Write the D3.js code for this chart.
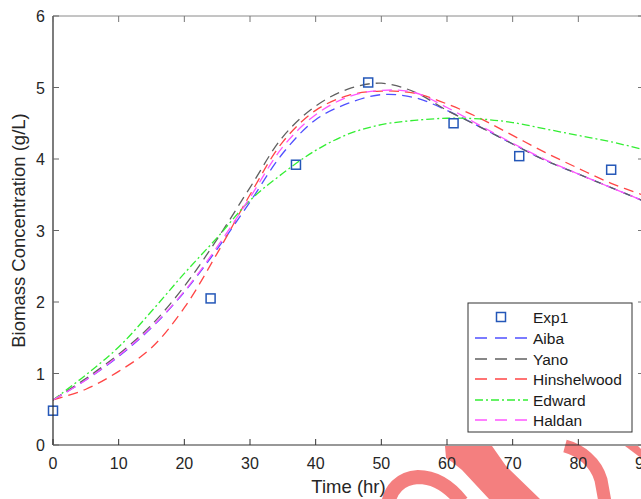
<!DOCTYPE html>
<html>
<head>
<meta charset="utf-8">
<script src="https://cdn.jsdelivr.net/npm/d3@7"></script>
<style>
  html, body { margin: 0; padding: 0; background: #fff; }
  svg { display: block; font-family: "Liberation Sans", Arial, Helvetica, sans-serif; }
</style>
</head>
<body>
<svg id="chart" width="641" height="499"></svg>
<script>
// Model time grid (hr)
const time = [0, 5, 10, 15, 20, 25, 30, 35, 40, 45, 50, 55, 60, 65, 70, 75, 80, 85, 90];

// Simulated biomass concentration (g/L) for each kinetic model
const aiba        = [0.63, 0.91, 1.24, 1.64, 2.14, 2.74, 3.40, 4.08, 4.55, 4.78, 4.90, 4.86, 4.68, 4.45, 4.21, 3.98, 3.79, 3.60, 3.41];
const yano        = [0.63, 0.93, 1.27, 1.68, 2.22, 2.88, 3.60, 4.31, 4.74, 4.98, 5.06, 4.94, 4.68, 4.45, 4.21, 3.98, 3.79, 3.60, 3.41];
const hinshelwood = [0.63, 0.78, 1.03, 1.36, 1.92, 2.68, 3.50, 4.24, 4.68, 4.89, 4.95, 4.92, 4.77, 4.57, 4.33, 4.09, 3.87, 3.66, 3.49];
const edward      = [0.63, 0.98, 1.37, 1.87, 2.40, 2.90, 3.42, 3.80, 4.12, 4.35, 4.48, 4.54, 4.57, 4.56, 4.51, 4.42, 4.33, 4.24, 4.13];
const haldan      = [0.63, 0.91, 1.25, 1.65, 2.15, 2.77, 3.46, 4.17, 4.62, 4.87, 4.96, 4.93, 4.72, 4.47, 4.22, 3.99, 3.79, 3.60, 3.41];

// Experimental measurements
const expTime    = [0, 24, 37, 48, 61, 71, 85];
const expBiomass = [0.48, 2.05, 3.92, 5.07, 4.50, 4.04, 3.85];

// Axis ticks
const xTicks = [0, 10, 20, 30, 40, 50, 60, 70, 80, 90];
const yTicks = [0, 1, 2, 3, 4, 5, 6];

const series = [
  { name: "Aiba",        values: aiba,        color: "#5050ff", dash: "10,6",    legendDash: "12,8" },
  { name: "Yano",        values: yano,        color: "#606060", dash: "10,6",    legendDash: "12,8" },
  { name: "Hinshelwood", values: hinshelwood, color: "#ff4545", dash: "10,6",    legendDash: "12,8" },
  { name: "Edward",      values: edward,      color: "#33ee33", dash: "8,3,2,3", legendDash: "8,3,2,3" },
  { name: "Haldan",      values: haldan,      color: "#ff55ff", dash: "10,6",    legendDash: "12,8" }
];

const svg = d3.select("#chart");
const pLeft = 53, pRight = 644, pTop = 16, pBottom = 445;

const x = d3.scaleLinear().domain([0, 90]).range([pLeft, pRight]);
const y = d3.scaleLinear().domain([0, 6]).range([pBottom, pTop]);

// Decorative red strokes in the lower right corner
const deco = svg.append("g").attr("fill", "none").attr("stroke", "#f47f7f");
deco.append("path")
  .attr("d", "M388,505 C390,490 400,478 418,477 C435,477 450,487 462,502")
  .attr("stroke-width", 14);
deco.append("path")
  .attr("d", "M565,446 C580,450 596,462 601,480 L605,502")
  .attr("stroke-width", 13);
svg.append("path")
  .attr("d", "M445,446 L492,446 L506,466 L540,499 L489,499 L462,470 L452,462 L446,458 Z")
  .attr("fill", "#f47f7f");
svg.append("path")
  .attr("d", "M625,446 L638,446 L641,449 L641,458 Z")
  .attr("fill", "#f47f7f");

// Plot clip
svg.append("defs").append("clipPath").attr("id", "plotclip")
  .append("rect").attr("x", pLeft).attr("y", pTop).attr("width", pRight - pLeft).attr("height", pBottom - pTop);

// Model curves
const line = d3.line()
  .x((d, i) => x(time[i]))
  .y(d => y(d))
  .curve(d3.curveCatmullRom.alpha(0.5));

const plot = svg.append("g").attr("clip-path", "url(#plotclip)");
series.forEach(s => {
  plot.append("path")
    .attr("d", line(s.values))
    .attr("fill", "none")
    .attr("stroke", s.color)
    .attr("stroke-width", 1.3)
    .attr("stroke-dasharray", s.dash);
});

// Experimental markers
svg.append("g").selectAll("rect.exp")
  .data(expTime)
  .join("rect")
  .attr("class", "exp")
  .attr("x", d => x(d) - 4.5)
  .attr("y", (d, i) => y(expBiomass[i]) - 4.5)
  .attr("width", 9)
  .attr("height", 9)
  .attr("fill", "none")
  .attr("stroke", "#2457b8")
  .attr("stroke-width", 1.5);

// Axes box and ticks
const axisG = svg.append("g");
axisG.append("line").attr("x1", pLeft).attr("x2", pRight).attr("y1", pTop).attr("y2", pTop)
  .attr("stroke", "#8a8a8a").attr("stroke-width", 1);
axisG.append("line").attr("x1", pLeft).attr("x2", pRight).attr("y1", pBottom).attr("y2", pBottom)
  .attr("stroke", "#333").attr("stroke-width", 1.2);
axisG.append("line").attr("x1", pLeft).attr("x2", pLeft).attr("y1", pTop).attr("y2", pBottom)
  .attr("stroke", "#262626").attr("stroke-width", 1.2);
axisG.append("line").attr("x1", pRight).attr("x2", pRight).attr("y1", pTop).attr("y2", pBottom)
  .attr("stroke", "#8a8a8a").attr("stroke-width", 1);

const tickLen = 6;
xTicks.forEach(t => {
  axisG.append("line").attr("x1", x(t)).attr("x2", x(t)).attr("y1", pBottom).attr("y2", pBottom - tickLen)
    .attr("stroke", "#333");
  axisG.append("line").attr("x1", x(t)).attr("x2", x(t)).attr("y1", pTop).attr("y2", pTop + tickLen)
    .attr("stroke", "#777");
});
yTicks.forEach(t => {
  axisG.append("line").attr("x1", pLeft).attr("x2", pLeft + tickLen).attr("y1", y(t)).attr("y2", y(t))
    .attr("stroke", "#666");
  axisG.append("line").attr("x1", pRight).attr("x2", pRight - tickLen).attr("y1", y(t)).attr("y2", y(t))
    .attr("stroke", "#777");
});

// Tick labels
svg.append("g").selectAll("text")
  .data(xTicks).join("text")
  .attr("x", d => x(d)).attr("y", 469)
  .attr("text-anchor", "middle")
  .attr("font-size", 16).attr("fill", "#262626")
  .text(d => d);
svg.append("g").selectAll("text")
  .data(yTicks).join("text")
  .attr("x", 45).attr("y", d => y(d) + 6)
  .attr("text-anchor", "end")
  .attr("font-size", 16).attr("fill", "#262626")
  .text(d => d);

// Axis titles
svg.append("text")
  .attr("x", (pLeft + pRight) / 2).attr("y", 493)
  .attr("text-anchor", "middle").attr("font-size", 18.5).attr("fill", "#262626")
  .text("Time (hr)");
svg.append("text")
  .attr("transform", `translate(25,${(pTop + pBottom) / 2}) rotate(-90)`)
  .attr("text-anchor", "middle").attr("font-size", 18.5).attr("fill", "#262626")
  .text("Biomass Concentration (g/L)");

// Legend
const lg = svg.append("g");
lg.append("rect").attr("x", 468).attr("y", 303).attr("width", 164).attr("height", 129)
  .attr("fill", "#fff").attr("stroke", "#333").attr("stroke-width", 1);
const rowY = [317, 338, 359, 379, 400, 420];
lg.append("rect").attr("x", 501 - 4.5).attr("y", rowY[0] - 4.5).attr("width", 9).attr("height", 9)
  .attr("fill", "none").attr("stroke", "#2457b8").attr("stroke-width", 1.5);
lg.append("text").attr("x", 533).attr("y", rowY[0] + 5.5).attr("font-size", 15.5).attr("fill", "#1a1a1a").text("Exp1");
series.forEach((s, i) => {
  const ry = rowY[i + 1];
  lg.append("line").attr("x1", 475).attr("x2", 528).attr("y1", ry).attr("y2", ry)
    .attr("stroke", s.color).attr("stroke-width", 1.3).attr("stroke-dasharray", s.legendDash);
  lg.append("text").attr("x", 533).attr("y", ry + 5.5).attr("font-size", 15.5).attr("fill", "#1a1a1a").text(s.name);
});
</script>
</body>
</html>
